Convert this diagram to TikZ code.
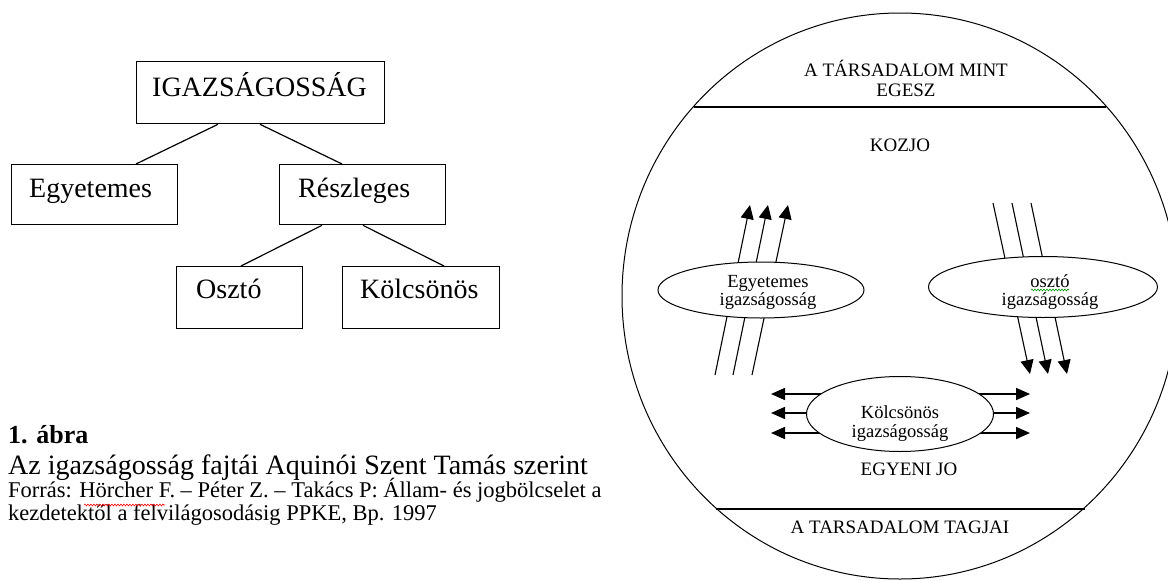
\documentclass[tikz,border=0pt]{standalone}
\usepackage{fontspec}
\setmainfont{Liberation Serif}
\usetikzlibrary{arrows.meta,shapes.geometric,calc,decorations.pathmorphing}
\begin{document}
\begin{tikzpicture}[x=1pt,y=-1pt,
  box/.style={draw, line width=1.3pt, rectangle, inner sep=0pt, anchor=north west},
  lbl/.style={anchor=base west, inner sep=0pt, font=\fontsize{28}{30}\selectfont},
  conn/.style={line width=1.2pt},
  ell/.style={draw, fill=white, ellipse, inner sep=0pt, line width=1pt},
  etext/.style={anchor=base, inner sep=0pt, font=\fontsize{18.5}{18}\selectfont},
  ctext/.style={anchor=base, inner sep=0pt, font=\fontsize{19}{20}\selectfont},
  sep/.style={line width=1.4pt},
  uparrow/.style={-{Triangle[length=14pt,width=13pt]}, line width=1.1pt},
  harrow/.style={{Triangle[length=14pt,width=12pt]}-{Triangle[length=14pt,width=12pt]}, line width=1.6pt},
  wavy/.style={decorate, decoration={snake, amplitude=0.9pt, segment length=3pt}, line width=0.6pt}
]
\useasboundingbox (0,0) rectangle (1168,581);

% ---------- tree ----------
\node[box, minimum width=248pt, minimum height=62pt] (igaz) at (136,61) {};
\node[box, minimum width=166pt, minimum height=60pt] (egy) at (11,164) {};
\node[box, minimum width=166pt, minimum height=60pt] (resz) at (279,164) {};
\node[box, minimum width=126pt, minimum height=62pt] (oszt) at (176,266) {};
\node[box, minimum width=157pt, minimum height=62pt] (kolcs) at (342,266) {};

\node[lbl] (igazt) at (152,96) {IGAZSÁGOSSÁG};
\node[lbl] (egyt) at (29,197) {Egyetemes};
\node[lbl] (reszt) at (298,197) {Részleges};
\node[lbl] (osztt) at (196,298) {Osztó};
\node[lbl] (kolcst) at (360,298) {Kölcsönös};

\draw[conn] ([xshift=82pt]igaz.south west) -- ([xshift=125pt]egy.north west);
\draw[conn] ([xshift=124pt]igaz.south west) -- ([xshift=63pt]resz.north west);
\draw[conn] ([xshift=43pt]resz.south west) -- ([xshift=65pt]oszt.north west);
\draw[conn] ([xshift=84pt]resz.south west) -- ([xshift=102pt]kolcs.north west);

% ---------- caption ----------
\node[anchor=base west, inner sep=0pt, font=\fontsize{26}{28}\selectfont\bfseries] (abra) at (8,443) {1. ábra};
\node[anchor=base west, inner sep=0pt, font=\fontsize{28}{30}\selectfont] (cim) at (8,474) {Az igazságosság fajtái Aquinói Szent Tamás szerint};
\node[anchor=base west, inner sep=0pt, font=\fontsize{22.5}{24}\selectfont] (forras1) at (8,497) {Forrás: Hörcher F. – Péter Z. – Takács P: Állam- és jogbölcselet a};
\node[anchor=base west, inner sep=0pt, font=\fontsize{22.5}{24}\selectfont] (forras2) at (8,520) {kezdetektől a felvilágosodásig PPKE, Bp. 1997};
\coordinate (hw1) at (84,505);
\coordinate (hw2) at (165,505);
\draw[wavy, red] (hw1) -- (hw2);

% ---------- circle ----------
\draw[line width=1pt] (900,296) ellipse [x radius=278pt, y radius=283pt];
\coordinate (t1) at (694,107);
\coordinate (t2) at (1106,107);
\draw[sep] (t1) -- (t2);
\coordinate (b1) at (716,509);
\coordinate (b2) at (1085,509);
\draw[sep] (b1) -- (b2);

\node[ctext] (tars1) at (906,76) {A TÁRSADALOM MINT};
\node[ctext] (tars2) at (906,96) {EGESZ};
\node[ctext] (kozjo) at (900,151) {KOZJO};
\node[ctext] (egyeni) at (909,475) {EGYENI JO};
\node[ctext] (tagjai) at (900,533) {A TARSADALOM TAGJAI};

% lines through Egyetemes ellipse (upwards)
\coordinate (ea1) at (715,375); \coordinate (eb1) at (750,205);
\coordinate (ea2) at (733,375); \coordinate (eb2) at (768,205);
\coordinate (ea3) at (752,375); \coordinate (eb3) at (788,205);
\draw[uparrow] (ea1) -- (eb1);
\draw[uparrow] (ea2) -- (eb2);
\draw[uparrow] (ea3) -- (eb3);

% lines through oszto ellipse (downwards)
\coordinate (oa1) at (993,203); \coordinate (ob1) at (1030,374);
\coordinate (oa2) at (1012,203); \coordinate (ob2) at (1048,374);
\coordinate (oa3) at (1031,203); \coordinate (ob3) at (1067,374);
\draw[uparrow] (oa1) -- (ob1);
\draw[uparrow] (oa2) -- (ob2);
\draw[uparrow] (oa3) -- (ob3);

% horizontal arrows through Kolcsonos ellipse
\coordinate (ka1) at (771,394); \coordinate (kb1) at (1030,394);
\coordinate (ka2) at (771,413); \coordinate (kb2) at (1030,413);
\coordinate (ka3) at (771,433); \coordinate (kb3) at (1030,433);
\draw[harrow] (ka1) -- (kb1);
\draw[harrow] (ka2) -- (kb2);
\draw[harrow] (ka3) -- (kb3);

% ellipses
\node[ell, minimum width=206pt, minimum height=56pt] (egyE) at (761,290) {};
\node[ell, minimum width=229pt, minimum height=61pt] (osztE) at (1043,287) {};
\node[ell, minimum width=187pt, minimum height=75pt] (kolcsE) at (900,414) {};

\node[etext] (egyE1) at (768,287) {Egyetemes};
\node[etext] (egyE2) at (768,305) {igazságosság};
\node[etext] (osztE1) at (1050,287) {osztó};
\node[etext] (osztE2) at (1050,305) {igazságosság};
\node[etext] (kolcsE1) at (900,418) {Kölcsönös};
\node[etext] (kolcsE2) at (900,437) {igazságosság};
\coordinate (gw1) at (1031,290);
\coordinate (gw2) at (1069,290);
\draw[wavy, green!60!black] (gw1) -- (gw2);
\end{tikzpicture}
\end{document}
